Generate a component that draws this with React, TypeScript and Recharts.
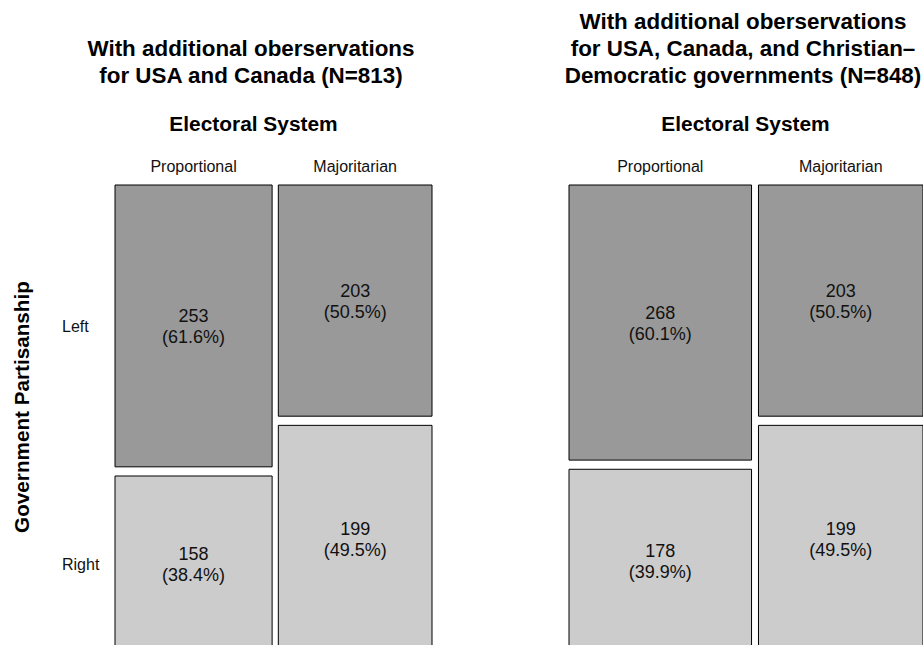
import React from "react";
import { ComposedChart, XAxis, YAxis, ReferenceArea, Scatter } from "recharts";

// Mosaic plot: Government Partisanship x Electoral System
const COLUMNS = ["Proportional", "Majoritarian"];
const ROWS = ["Left", "Right"];

// counts per column, rows in ROWS order
const PANEL1_PROPORTIONAL = [253, 158];
const PANEL1_MAJORITARIAN = [203, 199];
const PANEL2_PROPORTIONAL = [268, 178];
const PANEL2_MAJORITARIAN = [203, 199];

const PANEL1_TITLE = ["With additional oberservations", "for USA and Canada (N=813)"];
const PANEL2_TITLE = [
  "With additional oberservations",
  "for USA, Canada, and Christian–",
  "Democratic governments (N=848)",
];

const X_LABEL = "Electoral System";
const Y_LABEL = "Government Partisanship";

const GAP = 0.02;
const FILLS = ["#999999", "#cccccc"];
const FONT = "'Liberation Sans', Arial, Helvetica, sans-serif";

interface Cell {
  key: string;
  x1: number;
  x2: number;
  y1: number;
  y2: number;
  cx: number;
  cy: number;
  count: number;
  pct: number;
  row: number;
}

function buildCells(cols: number[][]) {
  const total = cols.reduce((s, c) => s + c.reduce((a, b) => a + b, 0), 0);
  const cells: Cell[] = [];
  const colCenters: number[] = [];
  const firstColRowCenters: number[] = [];
  let xc = 0;
  cols.forEach((col, j) => {
    const colTotal = col.reduce((a, b) => a + b, 0);
    const w = colTotal / total;
    let yc = 0;
    col.forEach((count, i) => {
      const h = count / colTotal;
      cells.push({
        key: `${j}-${i}`,
        x1: xc,
        x2: xc + w,
        y1: yc,
        y2: yc + h,
        cx: xc + w / 2,
        cy: yc + h / 2,
        count,
        pct: (count / colTotal) * 100,
        row: i,
      });
      if (j === 0) firstColRowCenters.push(yc + h / 2);
      yc += h + GAP;
    });
    colCenters.push(xc + w / 2);
    xc += w + GAP;
  });
  return { cells, colCenters, firstColRowCenters };
}

// count + column percentage, drawn at the cell centre
const CellText = (props: any) => {
  const { cx, cy, payload } = props;
  return (
    <text x={cx} textAnchor="middle" fontSize={18} fill="#111" fontFamily={FONT}>
      <tspan x={cx} y={cy - 4}>{payload.count}</tspan>
      <tspan x={cx} y={cy + 17}>({payload.pct.toFixed(1)}%)</tspan>
    </text>
  );
};

interface PanelProps {
  cols: number[][];
  width: number;
  margin: { top: number; left: number; right: number; bottom: number };
  showRows: boolean;
}

const MosaicPanel: React.FC<PanelProps> = ({ cols, width, margin, showRows }) => {
  const { cells, colCenters, firstColRowCenters } = buildCells(cols);
  return (
    <ComposedChart width={width} height={700} margin={margin} data={cells}>
      <XAxis
        xAxisId="x"
        dataKey="cx"
        type="number"
        orientation="top"
        domain={[0, 1 + GAP]}
        allowDataOverflow
        ticks={colCenters}
        interval={0}
        height={30}
        axisLine={false}
        tickLine={false}
        tick={(p: any) => (
          <text x={p.x} y={172} textAnchor="middle" fontSize={16} fill="#111" fontFamily={FONT}>
            {COLUMNS[p.index]}
          </text>
        )}
      />
      <YAxis
        yAxisId="y"
        dataKey="cy"
        type="number"
        domain={[0, 1 + GAP]}
        reversed
        allowDataOverflow
        hide={!showRows}
        width={60}
        ticks={firstColRowCenters}
        interval={0}
        axisLine={false}
        tickLine={false}
        tick={(p: any) => (
          <text x={62} y={p.y} dy="0.35em" textAnchor="start" fontSize={16} fill="#111" fontFamily={FONT}>
            {ROWS[p.index]}
          </text>
        )}
      />
      {cells.map((c) => (
        <ReferenceArea
          key={c.key}
          xAxisId="x"
          yAxisId="y"
          x1={c.x1}
          x2={c.x2}
          y1={c.y1}
          y2={c.y2}
          fill={FILLS[c.row]}
          fillOpacity={1}
          stroke="#000"
          strokeWidth={1}
          ifOverflow="visible"
        />
      ))}
      <Scatter
        xAxisId="x"
        yAxisId="y"
        dataKey="cy"
        data={cells}
        shape={CellText}
        isAnimationActive={false}
      />
    </ComposedChart>
  );
};

export default function App() {
  return (
    <div
      style={{
        position: "absolute",
        left: 0,
        top: 0,
        width: 923,
        height: 645,
        overflow: "hidden",
        background: "#fff",
        fontFamily: FONT,
      }}
    >
      <div style={{ position: "absolute", left: 0, top: 0 }}>
        <MosaicPanel
          cols={[PANEL1_PROPORTIONAL, PANEL1_MAJORITARIAN]}
          width={461}
          margin={{ top: 155, left: 55, right: 29, bottom: 48 }}
          showRows
        />
      </div>
      <div style={{ position: "absolute", left: 461, top: 0 }}>
        <MosaicPanel
          cols={[PANEL2_PROPORTIONAL, PANEL2_MAJORITARIAN]}
          width={462}
          margin={{ top: 155, left: 108, right: 0, bottom: 48 }}
          showRows={false}
        />
      </div>
      <svg
        width={923}
        height={645}
        style={{ position: "absolute", left: 0, top: 0, pointerEvents: "none" }}
        fontFamily={FONT}
        fill="#000"
      >
        {PANEL1_TITLE.map((t, i) => (
          <text key={t} x={251} y={56 + i * 27} textAnchor="middle" fontSize={22.4} fontWeight="bold">
            {t}
          </text>
        ))}
        {PANEL2_TITLE.map((t, i) => (
          <text key={t} x={743} y={29 + i * 27} textAnchor="middle" fontSize={22.4} fontWeight="bold">
            {t}
          </text>
        ))}
        <text x={253.5} y={131} textAnchor="middle" fontSize={20.9} fontWeight="bold">
          {X_LABEL}
        </text>
        <text x={745.5} y={131} textAnchor="middle" fontSize={20.9} fontWeight="bold">
          {X_LABEL}
        </text>
        <text
          x={29}
          y={407}
          transform="rotate(-90 29 407)"
          textAnchor="middle"
          fontSize={20.7}
          fontWeight="bold"
        >
          {Y_LABEL}
        </text>
      </svg>
    </div>
  );
}
